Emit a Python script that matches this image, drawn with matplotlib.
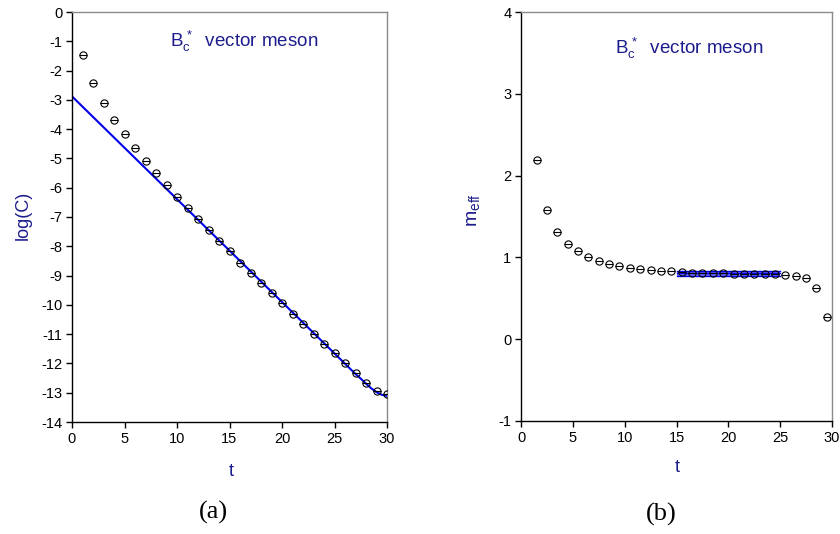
import matplotlib
matplotlib.use("Agg")
import matplotlib.pyplot as plt
import numpy as np

plt.rcParams['font.family'] = ['Liberation Sans', 'DejaVu Sans']
plt.rcParams['axes.unicode_minus'] = False
plt.rcParams['mathtext.fontset'] = 'custom'
plt.rcParams['mathtext.rm'] = 'Liberation Sans'
plt.rcParams['mathtext.it'] = 'Liberation Sans'

# ---- panel (a): log of correlator ----
t_a = list(range(1, 31))
logC = [-1.46, -2.42, -3.11, -3.68, -4.18, -4.64, -5.09, -5.51, -5.90, -6.30,
        -6.69, -7.06, -7.44, -7.81, -8.17, -8.56, -8.90, -9.25, -9.61, -9.95,
        -10.30, -10.65, -10.99, -11.32, -11.66, -12.00, -12.34, -12.66, -12.93, -13.04]
fit_t = [0, 26, 27, 27.5, 28, 28.5, 29, 29.5, 30]
fit_logC = [-2.88, -12.01, -12.36, -12.52, -12.69, -12.85, -12.98, -13.07, -13.11]

# ---- panel (b): effective mass ----
t_b = [x + 0.5 for x in range(1, 30)]
meff = [2.188, 1.576, 1.31, 1.163, 1.073, 1.004, 0.958, 0.915, 0.891, 0.870,
        0.858, 0.846, 0.838, 0.828, 0.818, 0.814, 0.810, 0.807, 0.805, 0.803,
        0.801, 0.799, 0.797, 0.794, 0.785, 0.775, 0.748, 0.628, 0.275]
plateau_t = [15, 25]
plateau_m = 0.805
plateau_err = 0.030

navy = '#1c1c8c'
W, H = 840, 534
fig = plt.figure(figsize=(W / 100, H / 100), dpi=100)

def make_ax(l, r, top, bot):
    return fig.add_axes([l / W, (H - bot) / H, (r - l) / W, (bot - top) / H])

def style(ax):
    for s in ['left', 'bottom']:
        ax.spines[s].set_color('black')
        ax.spines[s].set_linewidth(1.0)
    for s in ['top', 'right']:
        ax.spines[s].set_color('#8a8a8a')
        ax.spines[s].set_linewidth(1.0)
    ax.tick_params(direction='out', length=4, width=1, labelsize=10.5,
                   top=False, right=False, pad=3)

def markers(ax, x, y, z=3):
    ax.plot(x, y, linestyle='none', marker='o', ms=5.2, mfc='none', mec='black',
            mew=0.8, zorder=z)
    ax.plot(x, y, linestyle='none', marker='_', ms=5.2, mec='black', mew=0.8, zorder=z)

# panel (a)
axa = make_ax(72, 387, 12, 422)
style(axa)
axa.plot(fit_t, fit_logC, color='#0000ee', lw=1.5, zorder=2)
markers(axa, t_a, logC)
axa.set_xlim(0, 30)
axa.set_ylim(-14, 0)
axa.set_xticks(range(0, 31, 5))
axa.set_yticks(range(-14, 1))
axa.text(0.311, 0.927, r'$\mathrm{B_c^{\,*}}$  vector meson', transform=axa.transAxes,
         fontsize=13.5, color=navy, ha='left', va='center')

# panel (b)
axb = make_ax(521, 832, 12, 421)
style(axb)
lo = plateau_m - plateau_err
hi = plateau_m + plateau_err
axb.fill_between(plateau_t, [lo, lo], [hi, hi], color='#7070ff', lw=0, zorder=2)
for yv in (lo, plateau_m, hi):
    axb.plot(plateau_t, [yv, yv], color='#0000ee', lw=1.0, zorder=2)
markers(axb, t_b, meff)
axb.set_xlim(0, 30)
axb.set_ylim(-1, 4)
axb.set_xticks(range(0, 31, 5))
axb.set_yticks(range(-1, 5))
axb.text(0.302, 0.91, r'$\mathrm{B_c^{\,*}}$  vector meson', transform=axb.transAxes,
         fontsize=13.5, color=navy, ha='left', va='center')

# axis labels
fig.text(23 / W, 1 - 215 / H, 'log(C)', rotation=90, fontsize=13, color=navy,
         ha='center', va='center')
fig.text(231 / W, 1 - 472 / H, 't', fontsize=13, color=navy, ha='center', va='center')
fig.text(473 / W, 1 - 210 / H, r'$\mathrm{m_{eff}}$', rotation=90, fontsize=14, color=navy,
         ha='center', va='center')
fig.text(677 / W, 1 - 468 / H, 't', fontsize=13, color=navy, ha='center', va='center')

fig.text(213 / W, 1 - 512 / H, '(a)', fontsize=19, family='Liberation Serif',
         ha='center', va='center')
fig.text(661 / W, 1 - 514 / H, '(b)', fontsize=19, family='Liberation Serif',
         ha='center', va='center')

fig.savefig('out.png', dpi=100)
